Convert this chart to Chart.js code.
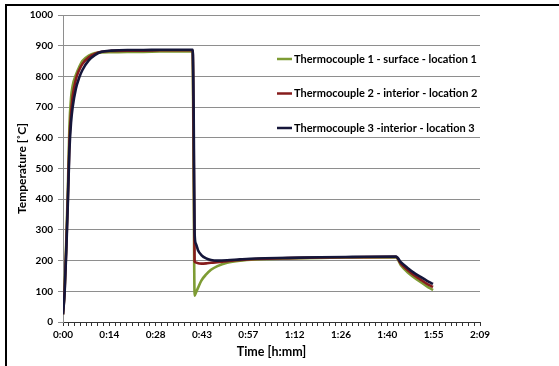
<!DOCTYPE html>
<html>
<head>
<meta charset="utf-8">
<script src="https://cdn.jsdelivr.net/npm/chart.js@4/dist/chart.umd.min.js"></script>
<style>
  html, body { margin: 0; padding: 0; background: #fff; }
  #wrap { position: relative; width: 559px; height: 366px; }
  #frame {
    position: absolute; left: 5px; top: 4px; right: -10px; bottom: -10px;
    border-left: 2px solid #000; border-top: 2px solid #000;
    pointer-events: none;
  }
</style>
</head>
<body>
<div id="wrap">
  <canvas id="chart" width="559" height="366"></canvas>
  <div id="frame"></div>
</div>
<script>
// time in minutes since start
const timeMin = [0, 0.5, 1, 1.5, 2, 2.5, 3, 4, 5, 6, 8, 10, 12, 15, 20, 25, 30, 35, 40.3,
  40.6, 40.9, 41.3, 42, 43, 44.5, 46, 48, 51, 55, 60, 70, 80, 90, 103.5,
  105, 107, 109, 111, 113, 115];

const tc1 = [25, 110, 260, 430, 640, 730, 770, 805, 830, 850, 868, 876, 878, 879, 880, 880, 881, 881, 881,
  480, 86, 95, 112, 135, 155, 170, 182, 193, 200, 204, 207, 209, 210, 210,
  185, 163, 146, 131, 117, 104];

const tc2 = [25, 100, 240, 400, 590, 680, 735, 790, 820, 840, 862, 874, 880, 883, 884, 884, 885, 885, 885,
  600, 197, 194, 191, 190, 191, 193, 195, 198, 202, 205, 208, 210, 211, 212,
  190, 170, 153, 139, 125, 114];

const tc3 = [25, 95, 225, 385, 560, 650, 700, 760, 795, 820, 852, 870, 880, 884, 886, 886, 887, 887, 887,
  700, 290, 255, 233, 218, 207, 202, 200, 201, 204, 207, 209, 211, 212, 213,
  195, 177, 161, 148, 135, 124];

const seriesNames = [
  "Thermocouple 1 - surface - location 1",
  "Thermocouple 2 - interior - location 2",
  "Thermocouple 3 -interior - location 3",
];
const seriesColors = ["#7e9c34", "#861c1c", "#15163a"];

// x axis: major step 0.01 day (14.4 min), 8 minor steps per major
const majorStep = 14.4;
const minorPerMajor = 8;
const xMax = 129.6;

const yTicks = [0, 100, 200, 300, 400, 500, 600, 700, 800, 900, 1000];

function toPoints(values) {
  return values.map((v, i) => ({ x: timeMin[i], y: v }));
}

function fmtTime(v) {
  const m = Math.floor(Math.round(v * 100) / 100 + 1e-6);
  const h = Math.floor(m / 60);
  const mm = m % 60;
  return h + ":" + (mm < 10 ? "0" + mm : mm);
}

const FONT = "Lato, 'Open Sans', sans-serif";

const insideLegend = {
  id: "insideLegend",
  afterDraw(chart) {
    const { ctx, chartArea } = chart;
    const x0 = chartArea.right - 203;
    const rows = [44, 78.5, 113];
    ctx.save();
    ctx.font = "bold 11px " + FONT;
    ctx.textBaseline = "middle";
    chart.data.datasets.forEach((ds, i) => {
      const y = chartArea.top + rows[i];
      ctx.strokeStyle = ds.borderColor;
      ctx.lineWidth = 2.5;
      ctx.beginPath();
      ctx.moveTo(x0, y);
      ctx.lineTo(x0 + 15, y);
      ctx.stroke();
      ctx.fillStyle = "#000";
      ctx.fillText(ds.label, x0 + 17, y);
    });
    ctx.restore();
  },
};

const whiteBg = {
  id: "whiteBg",
  beforeDraw(chart) {
    const { ctx } = chart;
    ctx.save();
    ctx.fillStyle = "#fff";
    ctx.fillRect(0, 0, chart.width, chart.height);
    ctx.restore();
  },
};

new Chart(document.getElementById("chart"), {
  type: "line",
  data: {
    datasets: [
      { label: seriesNames[0], data: toPoints(tc1), borderColor: seriesColors[0], order: 2 },
      { label: seriesNames[1], data: toPoints(tc2), borderColor: seriesColors[1], order: 1 },
      { label: seriesNames[2], data: toPoints(tc3), borderColor: seriesColors[2], order: 0 },
    ],
  },
  options: {
    responsive: false,
    animation: false,
    events: [],
    layout: { padding: { top: 15, right: 79, left: 0, bottom: 0 } },
    elements: {
      point: { radius: 0 },
      line: { borderWidth: 2.6, cubicInterpolationMode: "monotone" },
    },
    plugins: {
      legend: { display: false },
      tooltip: { enabled: false },
    },
    scales: {
      x: {
        type: "linear",
        min: 0,
        max: xMax,
        afterBuildTicks(scale) {
          const n = Math.round(xMax / majorStep) * minorPerMajor;
          const ticks = [];
          for (let i = 0; i <= n; i++) ticks.push({ value: (i * majorStep) / minorPerMajor });
          scale.ticks = ticks;
        },
        afterFit(scale) { scale.height = 44; },
        ticks: {
          autoSkip: false,
          maxRotation: 0,
          padding: 3,
          color: "#000",
          font: { family: FONT, size: 10, weight: "bold" },
          callback(value, index) {
            return index % minorPerMajor === 0 ? fmtTime(value) : "";
          },
        },
        grid: {
          drawOnChartArea: false,
          drawTicks: true,
          tickLength: 4,
          tickColor: "#333",
        },
        border: { color: "#333", width: 1 },
        title: {
          display: true,
          text: "Time [h:mm]",
          color: "#000",
          font: { family: FONT, size: 12.5, weight: "bold" },
          padding: { top: 0, bottom: 7 },
        },
      },
      y: {
        min: 0,
        max: 1000,
        afterBuildTicks(scale) {
          scale.ticks = yTicks.map((v) => ({ value: v }));
        },
        afterFit(scale) { scale.width = 63; },
        ticks: {
          padding: 5,
          color: "#000",
          font: { family: FONT, size: 10, weight: "bold" },
          callback: (value) => String(value),
        },
        grid: {
          color: "#8e8e8e",
          lineWidth: 1,
          tickLength: 5,
          tickColor: "#8e8e8e",
        },
        border: { color: "#8e8e8e", width: 1 },
        title: {
          display: true,
          text: "Temperature [˚C]",
          color: "#000",
          font: { family: FONT, size: 12, weight: "bold" },
          padding: { top: 15, bottom: 0 },
        },
      },
    },
  },
  plugins: [whiteBg, insideLegend],
});
</script>
</body>
</html>
